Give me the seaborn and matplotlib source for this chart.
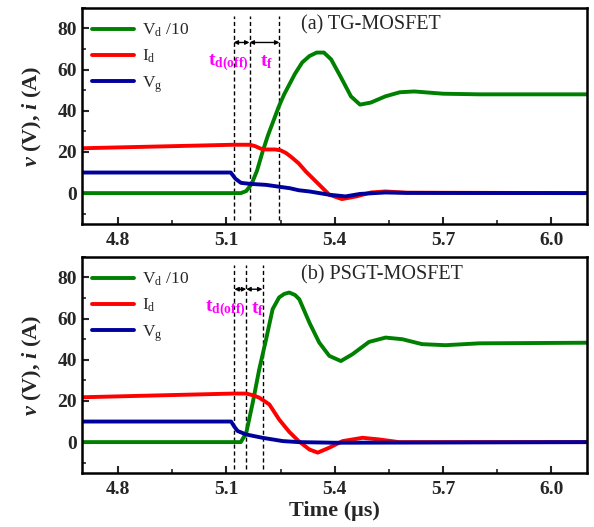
import numpy as np
import pandas as pd
import matplotlib
matplotlib.use("Agg")
import matplotlib.pyplot as plt
import seaborn as sns
from matplotlib.ticker import AutoMinorLocator

# ---------------- data ----------------
series_names = ["V$_\\mathrm{d}$ /10", "I$_\\mathrm{d}$", "V$_\\mathrm{g}$"]

# (a) TG-MOSFET
t_vd_a = [4.70, 5.14, 5.155, 5.17, 5.185, 5.20, 5.215, 5.23, 5.245, 5.26, 5.275, 5.29, 5.31, 5.33,
          5.35, 5.37, 5.39, 5.415, 5.445, 5.47, 5.50, 5.54, 5.58, 5.62, 5.70, 5.80, 6.10]
vd_a = [0, 0, 1, 4.5, 11, 20, 28, 35, 42, 48, 53, 58, 63.5, 66.6,
        68.3, 68.3, 65, 57, 47, 43, 44, 47, 49, 49.4, 48.3, 48, 48]
t_id_a = [4.70, 5.12, 5.165, 5.18, 5.195, 5.21, 5.235, 5.25, 5.265, 5.28, 5.30, 5.32, 5.35,
          5.385, 5.42, 5.46, 5.50, 5.54, 5.60, 6.10]
id_a = [21.8, 23.5, 23.5, 22.8, 21.6, 21.2, 21.2, 20.8, 19.5, 17.5, 14.5, 10.5, 5.3,
        -0.8, -2.9, -1.6, 0.3, 0.8, 0.2, 0]
t_vg_a = [4.70, 5.112, 5.125, 5.14, 5.165, 5.21, 5.25, 5.275, 5.30, 5.33, 5.385, 5.43, 5.47,
          5.54, 5.60, 6.10]
vg_a = [10, 10, 7, 5, 4.5, 4, 3, 2.4, 1.4, 0.8, -0.8, -1.6, -0.4, 0.3, 0.1, 0]
marks_a = [5.120, 5.164, 5.247]

# (b) PSGT-MOSFET
t_vd_b = [4.70, 5.14, 5.155, 5.173, 5.191, 5.21, 5.228, 5.246, 5.26, 5.274, 5.29, 5.302, 5.33,
          5.357, 5.385, 5.417, 5.449, 5.495, 5.541, 5.587, 5.642, 5.707, 5.80, 6.10]
vd_b = [0, 0, 4.5, 19.2, 35.4, 50, 64.6, 70.3, 72, 72.7, 71.5, 69.4, 58,
        48.4, 41.9, 39.4, 42.7, 48.7, 50.8, 50, 47.6, 47.1, 48, 48.3]
t_id_b = [4.70, 5.12, 5.155, 5.175, 5.191, 5.219, 5.246, 5.274, 5.30, 5.33, 5.353, 5.385,
          5.422, 5.477, 5.523, 5.578, 6.10]
id_b = [21.8, 23.6, 23.6, 22.7, 21.6, 18.3, 11, 5, 0.5, -3.6, -5.1, -2.7,
        0.5, 2.1, 1.3, 0, 0]
t_vg_b = [4.70, 5.113, 5.122, 5.131, 5.155, 5.20, 5.256, 5.30, 5.40, 6.10]
vg_b = [10, 10, 7.5, 5.4, 3.7, 2.1, 0.5, 0, -0.3, 0]
marks_b = [5.122, 5.155, 5.200]

panel_titles = ["(a) TG-MOSFET", "(b) PSGT-MOSFET"]
x_ticks = [4.8, 5.1, 5.4, 5.7, 6.0]
y_ticks = [0, 20, 40, 60, 80]

colors = ["#008000", "#FF0000", "#00009C"]

# ---------------- style ----------------
sns.set_theme(style="ticks")
plt.rcParams.update({
    "font.family": ["Liberation Serif", "DejaVu Serif"],
    "mathtext.fontset": "custom",
    "mathtext.rm": "Liberation Serif",
    "mathtext.it": "Liberation Serif:italic",
    "mathtext.bf": "Liberation Serif:bold",
    "mathtext.bfit": "Liberation Serif:italic:bold",
    "axes.linewidth": 1.8,
    "axes.edgecolor": "black",
})

fig = plt.figure(figsize=(5.94, 5.27), dpi=100)
ax_a = fig.add_axes([0.138, 0.575, 0.851, 0.410])
ax_b = fig.add_axes([0.138, 0.1025, 0.851, 0.410])

# (axes, series, marks, arrow y, label y, title y, t_f offset)
panels = [
    (ax_a, [(t_vd_a, vd_a), (t_id_a, id_a), (t_vg_a, vg_a)], marks_a, 73.2, 63.5, 0.921, 0.030),
    (ax_b, [(t_vd_b, vd_b), (t_id_b, id_b), (t_vg_b, vg_b)], marks_b, 74.3, 64.6, 0.917, 0.012),
]

for i, (ax, series, marks, arrow_y, lab_y, title_y, tf_off) in enumerate(panels):
    frames = []
    for name, (tt, vv) in zip(series_names, series):
        frames.append(pd.DataFrame({"t": tt, "v": vv, "s": name}))
    df = pd.concat(frames, ignore_index=True)
    sns.lineplot(data=df, x="t", y="v", hue="s", hue_order=series_names,
                 palette=colors, estimator=None, sort=True, linewidth=2.8, ax=ax)

    for m in marks:
        ax.plot([m, m], [-13, 86], ls=(0, (3, 2)), color="black", lw=1.0, zorder=1)
    for a0, a1 in [(marks[0], marks[1]), (marks[1], marks[2])]:
        ax.annotate("", xy=(a0, arrow_y), xytext=(a1, arrow_y),
                    arrowprops=dict(arrowstyle="<|-|>", color="black", lw=1.0,
                                    mutation_scale=6, shrinkA=0, shrinkB=0))
    ax.text(marks[1] - 0.002, lab_y, r"t$_{\mathbf{d(off)}}$", color="#FF00FF",
            fontsize=14, fontweight="bold", ha="right", va="center")
    ax.text(marks[1] + tf_off, lab_y, r"t$_{\mathbf{f}}$", color="#FF00FF",
            fontsize=14, fontweight="bold", ha="left", va="center")

    ax.text(0.434, title_y, panel_titles[i], transform=ax.transAxes, fontsize=14.5,
            ha="left", va="center")

    ax.set_xlim(4.7, 6.1)
    ax.set_ylim(-15, 90)
    ax.set_xticks(x_ticks)
    ax.set_yticks(y_ticks)
    ax.xaxis.set_minor_locator(AutoMinorLocator(2))
    ax.yaxis.set_minor_locator(AutoMinorLocator(2))
    ax.tick_params(which="major", direction="in", length=5, width=1.5, labelsize=14,
                   top=False, right=False)
    ax.tick_params(axis="x", which="major", pad=6)
    ax.tick_params(which="minor", direction="in", length=3, width=1.2, top=False, right=False)
    for lab in ax.get_xticklabels() + ax.get_yticklabels():
        lab.set_fontweight("bold")
    for sp in ax.spines.values():
        sp.set_visible(True)
        sp.set_linewidth(1.8)

    ax.set_ylabel(r"$\mathbfit{v}$ (V), $\mathbfit{i}$ (A)", fontsize=16, fontweight="bold", labelpad=10)
    ax.set_xlabel("")

    handles, labels = ax.get_legend_handles_labels()
    ax.legend(handles, labels, loc="upper left", bbox_to_anchor=(0.019, 0.935),
              frameon=False, fontsize=12.5,
              handlelength=2.45, handletextpad=0.45, labelspacing=0.5,
              borderaxespad=0.0, borderpad=0.0)

ax_b.set_xlabel("Time (μs)", fontsize=16, fontweight="bold", labelpad=2)

fig.savefig("out.png", dpi=100)
